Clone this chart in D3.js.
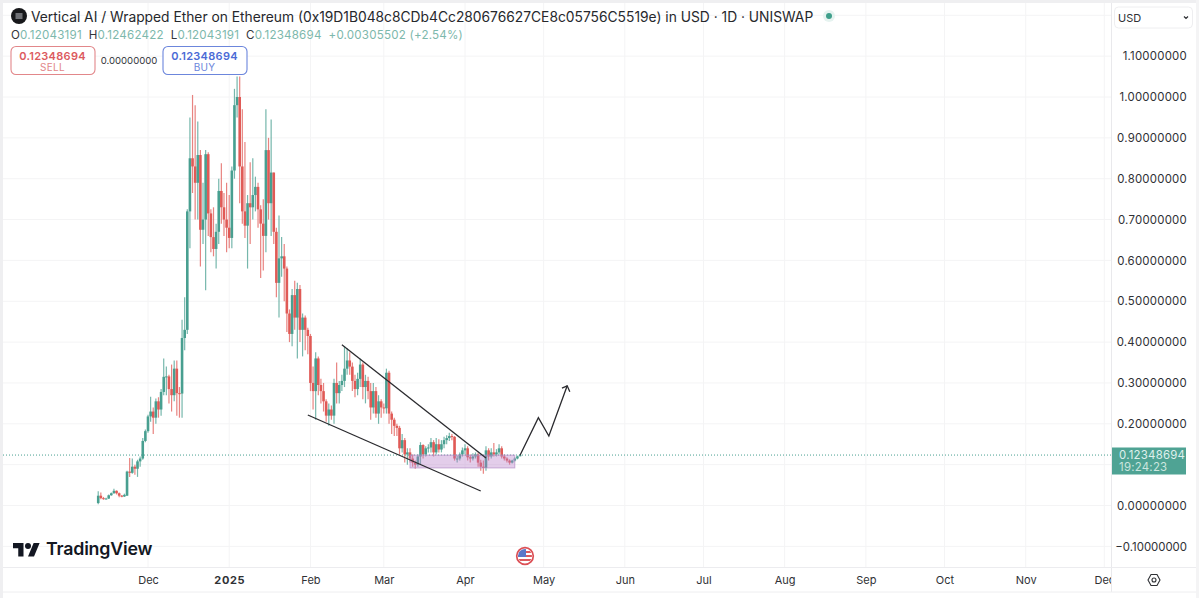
<!DOCTYPE html>
<html>
<head>
<meta charset="utf-8">
<script src="https://cdn.jsdelivr.net/npm/d3@7"></script>
<style>
  html, body { margin: 0; padding: 0; background: #fff; }
  svg { display: block; font-family: Inter, "Noto Sans", sans-serif; }
</style>
</head>
<body>
<svg id="chart" width="1199" height="598"></svg>
<script>
// daily candles, one row = 10 days, first candle on this date
const firstDay = "2024-11-12";
const opens = [
  .006,.024,.018,.016,.017,.025,.030,.036,.030,.024,
  .022,.024,.083,.080,.095,.090,.108,.115,.158,.182,
  .218,.230,.215,.255,.235,.278,.315,.316,.285,.270,
  .335,.275,.274,.410,.430,.720,.850,.830,.790,.858,
  .675,.700,.860,.715,.657,.628,.670,.770,.730,.700,
  .680,.655,.820,.980,1.000,.830,.720,.685,.740,.730,
  .760,.780,.725,.690,.660,.870,.740,.815,.670,.545,
  .605,.610,.580,.470,.420,.515,.460,.530,.430,.460,
  .430,.415,.300,.280,.360,.295,.280,.255,.220,.235,
  .220,.300,.275,.295,.305,.335,.355,.340,.305,.285,
  .310,.345,.290,.305,.280,.240,.280,.225,.255,.240,
  .238,.325,.225,.210,.195,.190,.140,.160,.125,.130,
  .115,.105,.100,.120,.148,.125,.140,.142,.155,.130,
  .150,.137,.150,.160,.165,.170,.168,.115,.115,.125,
  .135,.140,.118,.115,.120,.125,.105,.095,.092,.135,
  .120,.130,.125,.130,.140,.120,.115,.110,.105,.110,
  .115,.12043191
];
const closes = [
  .024,.018,.016,.017,.025,.030,.036,.030,.024,.022,
  .026,.083,.080,.095,.090,.108,.115,.158,.182,.218,
  .230,.215,.255,.235,.278,.315,.316,.285,.270,.335,
  .275,.274,.410,.430,.720,.850,.830,.790,.858,.675,
  .700,.860,.715,.657,.628,.670,.770,.730,.700,.680,
  .655,.820,.980,1.000,.830,.720,.685,.740,.730,.760,
  .780,.725,.690,.660,.870,.740,.815,.670,.545,.605,
  .610,.580,.470,.420,.515,.460,.530,.430,.460,.430,
  .415,.300,.280,.360,.295,.280,.255,.220,.235,.220,
  .300,.275,.295,.305,.335,.355,.340,.305,.285,.310,
  .345,.290,.305,.280,.240,.280,.225,.255,.240,.238,
  .325,.225,.210,.195,.190,.140,.160,.125,.130,.115,
  .105,.100,.120,.148,.125,.140,.142,.155,.130,.150,
  .137,.150,.160,.165,.170,.168,.115,.115,.125,.135,
  .140,.118,.115,.120,.125,.105,.095,.092,.135,.120,
  .130,.125,.130,.140,.120,.115,.110,.105,.110,.115,
  .12043191,.12348694
];
const highs = [
  .035,.032,.021,.019,.027,.032,.041,.037,.032,.026,
  .029,.085,.116,.115,.100,.112,.120,.165,.186,.222,
  .266,.240,.262,.265,.285,.360,.340,.320,.345,.355,
  .355,.290,.455,.510,.725,.950,1.005,.980,.940,.870,
  .790,.870,.865,.725,.730,.690,.800,.838,.765,.790,
  .760,.830,1.020,1.050,1.050,.970,.890,.760,.840,.850,
  .805,.790,.735,.750,.970,.900,.945,.815,.680,.710,
  .657,.640,.585,.480,.530,.550,.545,.540,.470,.465,
  .435,.420,.340,.375,.365,.310,.300,.260,.250,.245,
  .310,.350,.305,.320,.390,.385,.375,.350,.320,.325,
  .360,.350,.320,.315,.300,.300,.290,.270,.260,.250,
  .335,.330,.230,.215,.200,.195,.175,.165,.140,.140,
  .125,.110,.125,.155,.150,.145,.150,.165,.160,.165,
  .162,.160,.168,.172,.178,.175,.170,.122,.130,.142,
  .150,.145,.125,.128,.130,.130,.112,.110,.145,.140,
  .140,.153,.138,.150,.145,.125,.118,.113,.112,.118,
  .122,.12462422
];
const lows = [
  .003,.015,.014,.015,.016,.024,.029,.027,.020,.020,
  .021,.023,.070,.078,.075,.070,.095,.112,.155,.178,
  .205,.175,.200,.215,.220,.270,.270,.250,.230,.255,
  .220,.215,.215,.380,.420,.630,.765,.700,.700,.585,
  .640,.527,.660,.620,.610,.580,.640,.690,.660,.620,
  .630,.630,.800,.950,.740,.690,.655,.580,.640,.700,
  .720,.680,.557,.575,.620,.700,.660,.640,.510,.460,
  .560,.500,.425,.400,.390,.430,.360,.400,.365,.380,
  .370,.280,.235,.210,.270,.250,.230,.205,.195,.210,
  .200,.250,.250,.280,.290,.320,.320,.280,.265,.270,
  .290,.260,.250,.260,.210,.225,.215,.200,.215,.225,
  .225,.200,.175,.170,.170,.125,.130,.105,.100,.105,
  .095,.090,.095,.100,.115,.120,.130,.130,.120,.125,
  .130,.130,.140,.150,.158,.160,.110,.105,.110,.120,
  .125,.110,.105,.110,.115,.095,.085,.078,.085,.110,
  .115,.120,.120,.125,.115,.110,.105,.100,.103,.108,
  .113,.12043191
];

const priceTicks = [1.2, 1.1, 1.0, 0.9, 0.8, 0.7, 0.6, 0.5, 0.4, 0.3, 0.2, 0.1, 0, -0.1];
// 1.2 sits behind the currency box and 0.1 behind the price tag: grid only
const priceLabels = [1.1, 1.0, 0.9, 0.8, 0.7, 0.6, 0.5, 0.4, 0.3, 0.2, 0, -0.1];
const monthTicks = ["2024-12-01","2025-01-01","2025-02-01","2025-03-01","2025-04-01","2025-05-01",
  "2025-06-01","2025-07-01","2025-08-01","2025-09-01","2025-10-01","2025-11-01","2025-12-01"];
const monthLabels = ["Dec","2025","Feb","Mar","Apr","May","Jun","Jul","Aug","Sep","Oct","Nov","Dec"];

// hand drawn annotations on the chart, [day, price]
const upperLine = [["2025-02-13", .3936], ["2025-04-09", .116]];
const lowerLine = [["2025-01-31", .2216], ["2025-04-07", .0355]];
const arrowLine = [["2025-04-22", .123], ["2025-04-29", .215], ["2025-05-03", .1702], ["2025-05-10", .293]];
const arrowHead = [["2025-05-08", .2875], ["2025-05-10", .293], ["2025-05-11", .2786]];
const zoneBox = {from: "2025-03-11", to: "2025-04-20", top: .1233, bottom: .092};

const title = "Vertical AI / Wrapped Ether on Ethereum (0x19D1B048c8CDb4Cc280676627CE8c05756C5519e) in USD · 1D · UNISWAP";
const lastPrice = .12348694, countdown = "19:24:23";

const green = "#489f90", red = "#e05a56";
const plotRight = 1111, axisTop = 567;

const svg = d3.select("#chart");
const day = s => new Date(s + "T00:00:00Z");

const x = d3.scaleUtc().domain([day("2024-12-01"), day("2025-12-01")]).range([148, 148 + 365 * 2.62]);
const y = d3.scaleLinear().domain([0, 1]).range([505.5, 97]);

svg.append("clipPath").attr("id", "plot").append("rect")
    .attr("x", 3).attr("y", 3).attr("width", plotRight - 3).attr("height", axisTop - 3);

// grid
const grid = svg.append("g").attr("clip-path", "url(#plot)").attr("stroke", "#f4f4f5");
grid.selectAll(".h").data(priceTicks).enter().append("line")
    .attr("x1", 3).attr("x2", plotRight).attr("y1", d => y(d)).attr("y2", d => y(d));
grid.selectAll(".v").data(monthTicks).enter().append("line")
    .attr("y1", 3).attr("y2", axisTop).attr("x1", d => x(day(d))).attr("x2", d => x(day(d)));

// candles
const candles = closes.map((c, i) => ({
  date: d3.utcDay.offset(day(firstDay), i), o: opens[i], h: highs[i], l: lows[i], c: c
}));
const plot = svg.append("g").attr("clip-path", "url(#plot)");
plot.selectAll(".wick").data(candles).enter().append("line")
    .attr("x1", d => x(d.date)).attr("x2", d => x(d.date))
    .attr("y1", d => y(d.h)).attr("y2", d => y(d.l))
    .attr("stroke", d => d.c >= d.o ? green : red)
    .attr("stroke-opacity", .75).attr("stroke-width", 1.2);
plot.selectAll(".body").data(candles).enter().append("rect")
    .attr("x", d => x(d.date) - 1.3).attr("width", 2.6)
    .attr("y", d => y(Math.max(d.o, d.c)))
    .attr("height", d => Math.max(1, Math.abs(y(d.o) - y(d.c))))
    .attr("fill", d => d.c >= d.o ? green : red);

// last price line
plot.append("line")
    .attr("x1", 3).attr("x2", plotRight).attr("y1", y(lastPrice)).attr("y2", y(lastPrice))
    .attr("stroke", green).attr("stroke-dasharray", "1 2");

// annotations
plot.append("rect")
    .attr("x", x(day(zoneBox.from))).attr("width", x(day(zoneBox.to)) - x(day(zoneBox.from)))
    .attr("y", y(zoneBox.top)).attr("height", y(zoneBox.bottom) - y(zoneBox.top))
    .attr("fill", "#b57cc9").attr("fill-opacity", .38)
    .attr("stroke", "#b58cc6").attr("stroke-opacity", .7);
const pen = d3.line().x(d => x(day(d[0]))).y(d => y(d[1]));
[upperLine, lowerLine, arrowLine, arrowHead].forEach(pts => {
  plot.append("path").attr("d", pen(pts))
      .attr("fill", "none").attr("stroke", "#2a2a2e").attr("stroke-width", 1.3);
});

// axes
const priceAxis = svg.append("g").attr("transform", `translate(${plotRight},0)`)
    .call(d3.axisRight(y).tickValues(priceLabels).tickSize(0).tickPadding(76)
      .tickFormat(d => (d < 0 ? "\u2212" : "") + Math.abs(d).toFixed(8)));
priceAxis.select(".domain").remove();
priceAxis.selectAll("text").attr("fill", "#2f3135").attr("font-size", 11.4).attr("font-family", "Inter")
    .attr("letter-spacing", ".25").attr("text-anchor", "end");
priceAxis.selectAll(".tick").filter(d => d < 0).select("text").attr("letter-spacing", "0");

const timeAxis = svg.append("g").attr("transform", `translate(0,${axisTop})`)
    .call(d3.axisBottom(x).tickValues(monthTicks.map(day)).tickSize(0).tickPadding(9)
      .tickFormat((d, i) => monthLabels[i]));
timeAxis.select(".domain").remove();
timeAxis.selectAll("text").attr("fill", "#2f3135").attr("font-size", 11).attr("font-family", "Inter")
    .attr("font-weight", (d, i) => monthLabels[i] === "2025" ? 700 : 400)
    .attr("letter-spacing", (d, i) => monthLabels[i] === "2025" ? ".6" : "0");

// right panel hides the end of the time axis
const panel = svg.append("g");
priceAxis.raise();
panel.append("rect").attr("x", plotRight).attr("y", axisTop + 1).attr("width", 85).attr("height", 24).attr("fill", "#fff");
panel.append("line").attr("x1", plotRight + .5).attr("x2", plotRight + .5).attr("y1", 3).attr("y2", 592).attr("stroke", "#e9e9ec");
panel.append("line").attr("x1", 3).attr("x2", 1196).attr("y1", axisTop + .5).attr("y2", axisTop + .5).attr("stroke", "#ececef");
panel.append("line").attr("x1", 3).attr("x2", 1196).attr("y1", 592).attr("y2", 592).attr("stroke", "#eeeef0");

// outer frame
svg.append("rect").attr("x", 0).attr("y", 0).attr("width", 3).attr("height", 598).attr("fill", "#efeff1");
svg.append("rect").attr("x", 0).attr("y", 0).attr("width", 1199).attr("height", 3).attr("fill", "#efeff1");
svg.append("rect").attr("x", 1196).attr("y", 0).attr("width", 3).attr("height", 598).attr("fill", "#f4f4f5");

// currency selector
svg.append("rect").attr("x", 1114.5).attr("y", 7).attr("width", 78).attr("height", 21).attr("rx", 4)
    .attr("fill", "#fff").attr("stroke", "#eeeef0");
svg.append("text").attr("x", 1118).attr("y", 22).attr("font-size", 11).attr("fill", "#2f3135").text("USD");
svg.append("path").attr("d", "M1184 16.5l2 2 2-2").attr("fill", "none").attr("stroke", "#2f3135").attr("stroke-width", 1.2);

// last price tag
svg.append("rect").attr("x", plotRight + 1).attr("y", 447.5).attr("width", 74).attr("height", 27).attr("fill", "#4fa394");
svg.append("text").attr("x", 1119).attr("y", 458.5).attr("font-size", 11.4).attr("letter-spacing", ".25")
    .attr("fill", "#dff0ec").text(lastPrice.toFixed(8));
svg.append("text").attr("x", 1119).attr("y", 471).attr("font-size", 11.4).attr("letter-spacing", ".25")
    .attr("fill", "#cbe6df").text(countdown);

// settings icon
svg.append("path").attr("d", "M1148 580l3-5.5h6l3 5.5-3 5.5h-6z").attr("fill", "none").attr("stroke", "#2f3135").attr("stroke-width", 1.1);
svg.append("circle").attr("cx", 1154).attr("cy", 580).attr("r", 2).attr("fill", "none").attr("stroke", "#2f3135").attr("stroke-width", 1.1);

// header
svg.append("circle").attr("cx", 19).attr("cy", 16).attr("r", 8).attr("fill", "#17181b");
svg.append("rect").attr("x", 15.5).attr("y", 13).attr("width", 7).attr("height", 6).attr("fill", "#6e7075");
svg.append("text").attr("x", 31).attr("y", 22).attr("font-size", 13.8).attr("fill", "#26282c").text(title);
svg.append("circle").attr("cx", 829).attr("cy", 16).attr("r", 6).attr("fill", "#e6f3f0");
svg.append("circle").attr("cx", 829).attr("cy", 16).attr("r", 3).attr("fill", "#3f9f8b");

const ohlc = svg.append("text").attr("x", 11).attr("y", 39).attr("font-size", 11.6).attr("letter-spacing", ".2");
[["O", 1], ["0.12043191 ", 0], [" H", 1], ["0.12462422 ", 0], [" L", 1], ["0.12043191 ", 0], [" C", 1], ["0.12348694 ", 0], [" +0.00305502 (+2.54%)", 0]]
  .forEach(p => ohlc.append("tspan").attr("fill", p[1] ? "#33353a" : "#7db8ac").attr("xml:space", "preserve").text(p[0]));

// sell / buy buttons
function tradeButton(left, color, labelColor, label) {
  svg.append("rect").attr("x", left + .5).attr("y", 46.5).attr("width", 84).attr("height", 28).attr("rx", 5)
      .attr("fill", "#fff").attr("stroke", color).attr("stroke-width", 1.1);
  svg.append("text").attr("x", left + 42).attr("y", 59.5).attr("text-anchor", "middle")
      .attr("font-size", 11).attr("font-weight", 600).attr("letter-spacing", ".3").attr("fill", labelColor).text("0.12348694");
  svg.append("text").attr("x", left + 42).attr("y", 71).attr("text-anchor", "middle")
      .attr("font-size", 10).attr("letter-spacing", ".3").attr("fill", color).text(label);
}
tradeButton(10.5, "#e2878a", "#dc5a5e", "SELL");
tradeButton(162.5, "#6c86dc", "#4b6bd6", "BUY");
svg.append("text").attr("x", 129).attr("y", 64).attr("text-anchor", "middle")
    .attr("font-size", 9.6).attr("fill", "#33353a").text("0.00000000");

// TradingView mark
const logo = svg.append("g").attr("transform", "translate(13,540) scale(.75)").attr("fill", "#131722");
logo.append("path").attr("d", "M14 22H7V11H0V4h14v18zM28 22h-8l7.5-18h8L28 22z");
logo.append("circle").attr("cx", 20).attr("cy", 8).attr("r", 4);
svg.append("text").attr("x", 46).attr("y", 555).attr("font-size", 17.8).attr("font-weight", 600)
    .attr("letter-spacing", "-.2").attr("fill", "#131722").text("TradingView");

// US flag event marker
const flag = svg.append("g").attr("transform", "translate(525,556)");
flag.append("clipPath").attr("id", "flagClip").append("circle").attr("r", 7);
const flagInner = flag.append("g").attr("clip-path", "url(#flagClip)");
flagInner.append("rect").attr("x", -7).attr("y", -7).attr("width", 14).attr("height", 14).attr("fill", "#fff");
[-5, -1, 3].forEach(t => flagInner.append("rect").attr("x", -7).attr("y", t).attr("width", 14).attr("height", 2).attr("fill", "#dc5a5e"));
flagInner.append("rect").attr("x", -7).attr("y", -7).attr("width", 8).attr("height", 8).attr("fill", "#5b78c8");
flag.append("circle").attr("r", 8.3).attr("fill", "none").attr("stroke", "#dc4f55").attr("stroke-width", 1.7);
</script>
</body>
</html>
